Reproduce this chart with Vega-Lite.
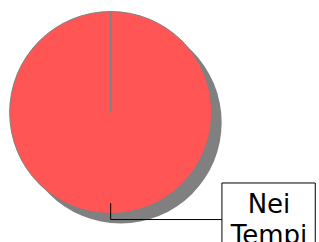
{
  "$schema": "https://vega.github.io/schema/vega-lite/v6.json",
  "width": 319,
  "height": 242,
  "padding": 0,
  "autosize": {"type": "none"},
  "background": "white",
  "config": {"view": {"stroke": null}},
  "datasets": {
    "pie": [{"label": "Nei Tempi", "value": 100, "cx": 0, "cy": 0}],
    "edge": [{"x": 0, "y": 0, "y2": 100}],
    "leader": [
      {"i": 1, "x": 0, "y": -90},
      {"i": 2, "x": 0, "y": -106.3},
      {"i": 3, "x": 110.5, "y": -106.3}
    ],
    "box": [{"label": "Nei Tempi", "x": 110.5, "x2": 203.2, "y": -70, "y2": -145, "tx": 157.2, "ty": -99.8}]
  },
  "layer": [
    {
      "data": {"name": "pie"},
      "mark": {"type": "arc", "outerRadius": 101, "xOffset": 10, "yOffset": 10, "fill": "#808080", "stroke": null},
      "encoding": {
        "theta": {"field": "value", "type": "quantitative"},
        "x": {"field": "cx", "type": "quantitative", "scale": {"domain": [-109.9, 206.9], "nice": false, "zero": false}, "axis": null},
        "y": {"field": "cy", "type": "quantitative", "scale": {"domain": [-128.6, 111.7], "nice": false, "zero": false}, "axis": null}
      }
    },
    {
      "data": {"name": "pie"},
      "mark": {"type": "arc", "outerRadius": 101, "fill": "#FF5555", "stroke": "#808080", "strokeWidth": 1},
      "encoding": {
        "theta": {"field": "value", "type": "quantitative"},
        "x": {"field": "cx", "type": "quantitative", "axis": null},
        "y": {"field": "cy", "type": "quantitative", "axis": null}
      }
    },
    {
      "data": {"name": "edge"},
      "mark": {"type": "rule", "color": "#808080", "strokeWidth": 1.5},
      "encoding": {
        "x": {"field": "x", "type": "quantitative", "axis": null},
        "y": {"field": "y", "type": "quantitative", "axis": null},
        "y2": {"field": "y2"}
      }
    },
    {
      "data": {"name": "leader"},
      "mark": {"type": "line", "color": "#000000", "strokeWidth": 1, "clip": false},
      "encoding": {
        "x": {"field": "x", "type": "quantitative", "axis": null},
        "y": {"field": "y", "type": "quantitative", "axis": null},
        "order": {"field": "i", "type": "quantitative"}
      }
    },
    {
      "data": {"name": "box"},
      "mark": {"type": "rect", "fill": "white", "stroke": "#000000", "strokeWidth": 1, "clip": false},
      "encoding": {
        "x": {"field": "x", "type": "quantitative", "axis": null},
        "x2": {"field": "x2"},
        "y": {"field": "y", "type": "quantitative", "axis": null},
        "y2": {"field": "y2"}
      }
    },
    {
      "data": {"name": "box"},
      "mark": {"type": "text", "font": "DejaVu Sans", "fontSize": 26, "align": "center", "baseline": "alphabetic", "lineBreak": " ", "lineHeight": 31, "color": "#000000"},
      "encoding": {
        "x": {"field": "tx", "type": "quantitative", "axis": null},
        "y": {"field": "ty", "type": "quantitative", "axis": null},
        "text": {"field": "label"}
      }
    }
  ]
}
